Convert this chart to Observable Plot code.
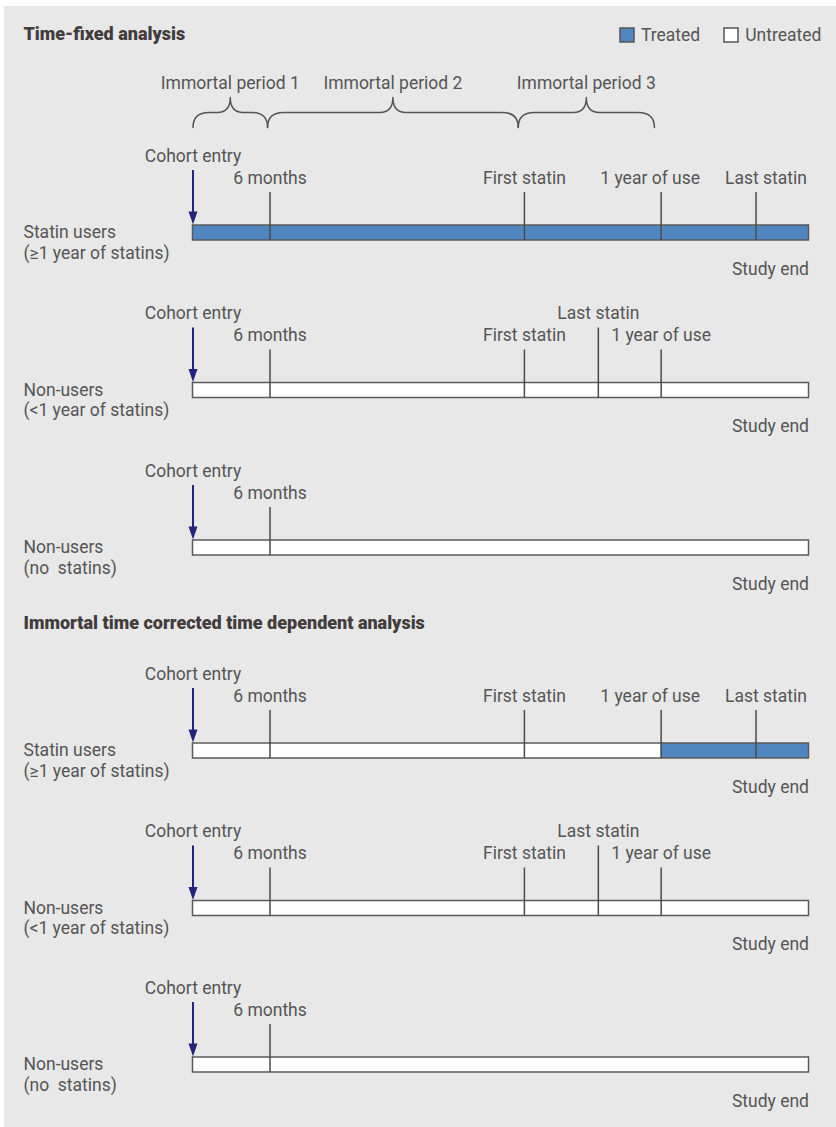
<!DOCTYPE html>
<html><head><meta charset="utf-8">
<script src="https://cdn.jsdelivr.net/npm/d3@7"></script>
<script src="https://cdn.jsdelivr.net/npm/@observablehq/plot@0.6"></script>
<style>
html,body{margin:0;padding:0;background:#fff;}
#wrap{position:absolute;left:4px;top:6px;width:832px;height:1121px;background:#e8e8e8;overflow:hidden;}
#chart{position:absolute;left:0;top:0;}
#legend{position:absolute;left:616px;top:12px;width:320px;white-space:nowrap;}
#legend > div{flex-wrap:nowrap !important;margin:0 !important;}
#legend span{margin-right:24px !important;color:#555;}
#legend svg{margin-right:7px !important;}
#legend svg rect{stroke:#555;stroke-width:1.5px;}
</style></head><body><div id="wrap"><div id="chart"></div><div id="legend"></div></div>
<script>
// ---- data ----
const sectionTitles = ["Time-fixed analysis", "Immortal time corrected time dependent analysis"];
const groups = ["Statin users\n(\u22651 year of statins)", "Non-users\n(<1 year of statins)", "Non-users\n(no\u00a0 statins)"];
const statusNames = ["Treated", "Untreated"];
const eventLabels = ["6 months", "First statin", "Last statin", "1 year of use"];
// schematic time units: cohort entry = 0, study end = 100
const cohortEntry = 0, studyEnd = 100;
const statinUserEvents = [12.5, 53.8, 91.4, 76.0];
const nonUserLtEvents = [12.5, 53.8, 65.8, 76.0];
const nonUserNoEvents = [12.5, null, null, null];
const groupEvents = [statinUserEvents, nonUserLtEvents, nonUserNoEvents];
// treated period [start, end] per section per group (null = never treated)
const treatedFixed = [[0, 100], null, null];
const treatedDependent = [[76.0, 100], null, null];
const treatedPeriods = [treatedFixed, treatedDependent];
const bracketLabels = ["Immortal period 1", "Immortal period 2", "Immortal period 3"];
const bracketBounds = [0, 12.1, 52.8, 74.9];

// ---- layout (page pixels) ----
const OX = 4, OY = 6, W = 832, H = 1121;
const layout = {
  titleBaseline: [39, 628],
  rowTop: [[225, 382.5, 540], [743, 900.5, 1057]],
  barH: 15,
  labelDx: -169.5,
  bracketBottom: 127, bracketLabel: 88,
  eventDx: {"0|1 year of use": -11, "0|Last statin": 10},
  raised: {"1|Last statin": true}
};
const blue = "#4f86c0", navy = "#24247e", ink = "#555", tickInk = "#4a4a4a";
const FS = 17.5;

// ---- derived tables ----
const rows = [];
sectionTitles.forEach((s, si) => groups.forEach((g, gi) => rows.push({si, gi, group: g, top: layout.rowTop[si][gi]})));
const ticks = [];
rows.forEach(r => groupEvents[r.gi].forEach((t, ei) => {
  if (t == null) return;
  const key = r.gi + "|" + eventLabels[ei];
  ticks.push({t, label: eventLabels[ei], top: r.top, dx: layout.eventDx[key] || 0, raised: !!layout.raised[key]});
}));
const segments = [];
rows.forEach(r => {
  const p = treatedPeriods[r.si][r.gi];
  if (!p) { segments.push({x1: cohortEntry, x2: studyEnd, top: r.top, status: "Untreated"}); return; }
  if (p[0] > cohortEntry) segments.push({x1: cohortEntry, x2: p[0], top: r.top, status: "Untreated"});
  segments.push({x1: p[0], x2: p[1], top: r.top, status: "Treated"});
  if (p[1] < studyEnd) segments.push({x1: p[1], x2: studyEnd, top: r.top, status: "Untreated"});
});
const braces = bracketLabels.map((label, i) => ({label, a: bracketBounds[i], b: bracketBounds[i + 1]}));
const bracePts = braces.flatMap(d => [
  {x: d.a, y: layout.bracketBottom, z: d.label},
  {x: (d.a + d.b) / 2, y: layout.bracketBottom - 30, z: d.label},
  {x: d.b, y: layout.bracketBottom, z: d.label}
]);

function braceCurve(context) {
  let pts;
  return {
    areaStart() {}, areaEnd() {},
    lineStart() { pts = []; },
    point(x, y) { pts.push([x, y]); },
    lineEnd() {
      const [[x0, yb], [xm, yt], [x1]] = pts;
      const h = (yb + yt) / 2, re = 16, rp = 13;
      context.moveTo(x0, yb);
      context.quadraticCurveTo(x0, h, x0 + re, h);
      context.lineTo(xm - rp, h);
      context.quadraticCurveTo(xm, h, xm, yt);
      context.quadraticCurveTo(xm, h, xm + rp, h);
      context.lineTo(x1 - re, h);
      context.quadraticCurveTo(x1, h, x1, yb);
    }
  };
}
const arrowHead = {draw(ctx) { ctx.moveTo(-4.5, -13); ctx.lineTo(4.5, -13); ctx.lineTo(0, 0); ctx.closePath(); }};

const font = "Roboto, 'Noto Sans', sans-serif";
const txt = {fill: ink, fontSize: FS, lineAnchor: "bottom", fontFamily: font};
const dxValues = [...new Set(ticks.map(d => d.dx))];

const plot = Plot.plot({
  width: W, height: H,
  margin: 0,
  x: {domain: [cohortEntry, studyEnd], range: [192.5 - OX, 808.5 - OX], axis: null},
  y: {domain: [OY, OY + H], range: [0, H], axis: null},
  color: {domain: statusNames, range: [blue, "#ffffff"]},
  style: {background: "transparent", fontFamily: font, overflow: "visible"},
  marks: [
    Plot.text(sectionTitles, {x: () => cohortEntry, y: (d, i) => layout.titleBaseline[i], text: d => d, textAnchor: "start", dx: layout.labelDx, fill: "#433c3c", fontSize: 18, fontWeight: 900, lineAnchor: "bottom", fontFamily: font}),
    Plot.line(bracePts, {x: "x", y: "y", z: "z", curve: braceCurve, stroke: "#555", strokeWidth: 1.5}),
    Plot.text(braces, {x: d => (d.a + d.b) / 2, y: () => layout.bracketLabel, text: "label", ...txt}),
    Plot.rect(segments, {x1: "x1", x2: "x2", y1: "top", y2: d => d.top + layout.barH, fill: "status"}),
    Plot.rect(rows, {x1: () => cohortEntry, x2: () => studyEnd, y1: "top", y2: d => d.top + layout.barH, fill: "none", stroke: "#5a5a5a", strokeWidth: 1.5}),
    Plot.ruleX(ticks, {x: "t", y1: d => d.top - (d.raised ? 55 : 33), y2: d => d.top + layout.barH, stroke: tickInk, strokeWidth: 1.5}),
    ...dxValues.map(dx => Plot.text(ticks.filter(d => d.dx === dx), {x: "t", y: d => d.top - (d.raised ? 64 : 42), text: "label", dx, ...txt})),
    Plot.ruleX(rows, {x: () => cohortEntry, y1: d => d.top - 55, y2: d => d.top - 12, stroke: navy, strokeWidth: 2}),
    Plot.dot(rows, {x: () => cohortEntry, y: d => d.top - 1, symbol: arrowHead, fill: navy, stroke: "none"}),
    Plot.text(rows, {x: () => cohortEntry, y: d => d.top - 64, text: () => "Cohort entry", ...txt}),
    Plot.text(rows, {x: () => studyEnd, y: d => d.top + 49, text: () => "Study end", textAnchor: "end", ...txt}),
    Plot.text(rows, {x: () => cohortEntry, y: d => d.top + 33, text: "group", textAnchor: "start", dx: layout.labelDx, lineHeight: 1.17, ...txt})
  ]
});
document.getElementById("chart").appendChild(plot);
const legend = Plot.legend({color: {domain: statusNames, range: [blue, "#ffffff"]}, legend: "swatches", swatchSize: 14, style: {fontFamily: font, fontSize: FS + "px", background: "transparent"}});
document.getElementById("legend").appendChild(legend);
</script></body></html>
